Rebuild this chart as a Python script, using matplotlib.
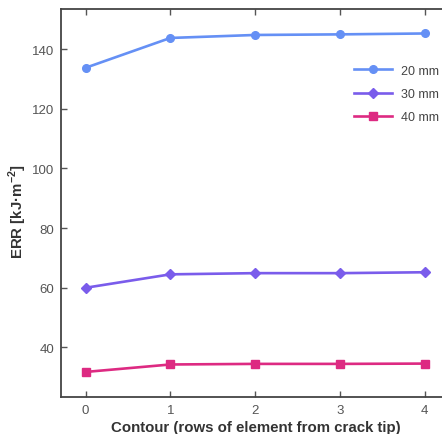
"""
plot.py
=============================
ERR versus contour number for three crack sizes.
"""

import numpy as np
import matplotlib
matplotlib.use('Agg')
import matplotlib.pyplot as plt

# Data
Contour  = [0, 1, 2, 3, 4]
ERR_20mm = [133.7, 143.7, 144.7, 144.9, 145.2]
ERR_30mm = [60.0, 64.5, 64.9, 64.9, 65.2]
ERR_40mm = [31.8, 34.3, 34.5, 34.5, 34.6]
Labels   = ['20 mm', '30 mm', '40 mm']
Y_Ticks  = [40, 60, 80, 100, 120, 140]

def Plot_Linechart():

	plt.rcParams['font.family'] = ['Liberation Sans', 'DejaVu Sans']
	plt.rcParams['mathtext.fontset'] = 'custom'
	plt.rcParams['mathtext.rm'] = 'Liberation Sans'
	plt.rcParams['mathtext.bf'] = 'Liberation Sans:bold'

	# Create figure
	fig = plt.figure(figsize=(4.42, 4.35), dpi=100)
	ax = fig.add_axes([0.138, 0.0857, 0.88, 0.8913])

	# Plot data
	ax.plot(Contour, ERR_20mm, color='#6590F5', linewidth=1.9, marker='o', markersize=5.5, label=Labels[0])
	ax.plot(Contour, ERR_30mm, color='#7A5CEB', linewidth=1.9, marker='D', markersize=5, label=Labels[1])
	ax.plot(Contour, ERR_40mm, color='#DD2A82', linewidth=1.9, marker='s', markersize=5.5, label=Labels[2])

	# Plot configuration
	ax.set_xlim([-0.29, 4.3])
	ax.set_ylim([23.5, 153.4])
	ax.set_xticks(Contour)
	ax.set_yticks(Y_Ticks)
	ax.set_xlabel('Contour (rows of element from crack tip)', fontsize=10.8, fontweight='bold', color='#333333', labelpad=3)
	ax.set_ylabel('ERR [kJ·m$^{\\mathbf{-2}}$]', fontsize=10.8, fontweight='bold', color='#333333')
	ax.yaxis.set_label_coords(-0.082, 0.48)
	ax.tick_params(direction='in', top=True, right=True, length=4, width=1, color='#555555', labelsize=9.5, labelcolor='#555555', pad=5)
	for s in ax.spines.values():
		s.set_color('#444444')
		s.set_linewidth(1.3)

	leg = ax.legend(loc='upper right', bbox_to_anchor=(1.0, 0.885), frameon=False, fontsize=9, handlelength=3.0, labelspacing=0.9, handletextpad=0.7)
	for t in leg.get_texts():
		t.set_color('#444444')

	plt.savefig('out.png', dpi=100)
	plt.close()

	return

if (__name__ == '__main__'):

	Plot_Linechart()
